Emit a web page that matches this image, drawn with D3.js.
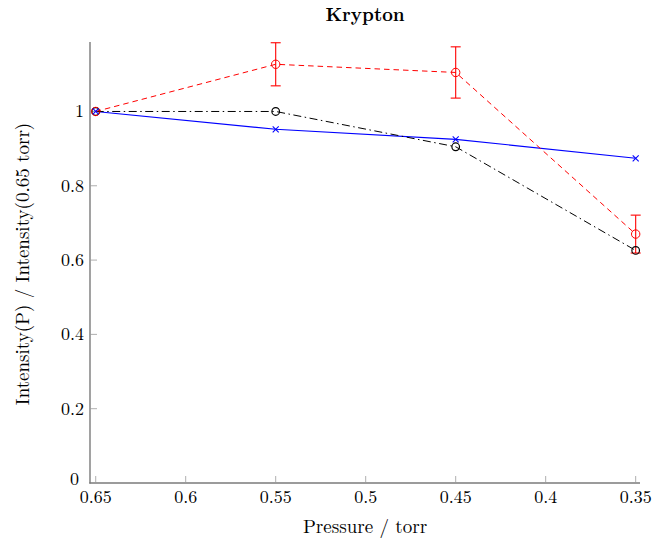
<!DOCTYPE html>
<html><head><meta charset="utf-8">
<script src="https://cdn.jsdelivr.net/npm/d3@7"></script>
<style>
body{margin:0;background:#fff;}
svg text{font-family:"Latin Modern Roman","CMU Serif","Liberation Serif","DejaVu Serif",serif;fill:#000;}
</style></head>
<body><svg id="c" width="653" height="543"></svg>
<script>
const pressures = [0.65, 0.55, 0.45, 0.35];
const redValues = [1.0, 1.127, 1.105, 0.670];
const redErrors = [0, 0.058, 0.069, 0.051];
const blackValues = [1.0, 1.0, 0.905, 0.626];
const blueValues = [1.0, 0.952, 0.925, 0.874];
const xTicks = [0.65, 0.6, 0.55, 0.5, 0.45, 0.4, 0.35];
const yTicks = [0, 0.2, 0.4, 0.6, 0.8, 1];
const titleText = "Krypton";
const xLabel = "Pressure / torr";
const yLabel = "Intensity(P) / Intensity(0.65 torr)";

const svg = d3.select("#c");
const x = d3.scaleLinear().domain([0.65317, 0.3476]).range([90, 640]);
const y = d3.scaleLinear().domain([0, 1.187]).range([483, 42]);

// axes
const axisColor = "#7a7a7a";
svg.append("line").attr("x1",90).attr("x2",90).attr("y1",y(1.187)).attr("y2",483.5)
  .attr("stroke",axisColor).attr("stroke-width",1.4);
svg.append("line").attr("x1",89.3).attr("x2",640).attr("y1",483).attr("y2",483)
  .attr("stroke",axisColor).attr("stroke-width",1.4);

const xa = svg.append("g");
xTicks.forEach(t=>{
  xa.append("line").attr("x1",x(t)).attr("x2",x(t)).attr("y1",483).attr("y2",476)
    .attr("stroke","#999").attr("stroke-width",0.8);
  xa.append("text").attr("x",x(t)).attr("y",503).attr("text-anchor","middle")
    .attr("font-size",18).text(String(t));
});
const ya = svg.append("g");
yTicks.forEach(t=>{
  if(t>0) ya.append("line").attr("x1",90).attr("x2",97).attr("y1",y(t)).attr("y2",y(t))
    .attr("stroke","#999").attr("stroke-width",0.8);
  ya.append("text").attr("x",t===0?79:84).attr("y",y(t)+(t===0?2:6)).attr("text-anchor","end")
    .attr("font-size",18).text(String(t));
});

// title & labels
svg.append("text").attr("x",365).attr("y",21).attr("text-anchor","middle")
  .attr("font-size",18.5).attr("font-weight","bold").text(titleText);
svg.append("text").attr("x",365).attr("y",533).attr("text-anchor","middle")
  .attr("font-size",19).text(xLabel);
svg.append("text").attr("transform","translate(29,264) rotate(-90)").attr("text-anchor","middle")
  .attr("font-size",19).text(yLabel);

const line = vals => d3.line().x((d,i)=>x(pressures[i])).y(d=>y(d))(vals);

// blue solid
svg.append("path").attr("d",line(blueValues)).attr("fill","none").attr("stroke","#0000ff").attr("stroke-width",1.1);
// black dash-dot
svg.append("path").attr("d",line(blackValues)).attr("fill","none").attr("stroke","#000")
  .attr("stroke-width",1).attr("stroke-dasharray","8,3.5,1.5,3.5");
// red dashed
svg.append("path").attr("d",line(redValues)).attr("fill","none").attr("stroke","#ff0000")
  .attr("stroke-width",1).attr("stroke-dasharray","5.5,4");

// red error bars
pressures.forEach((p,i)=>{
  const e = redErrors[i];
  if(e<=0) return;
  const g = svg.append("g").attr("stroke","#ff0000").attr("stroke-width",1.1);
  g.append("line").attr("x1",x(p)).attr("x2",x(p)).attr("y1",y(redValues[i]+e)).attr("y2",y(redValues[i]-e));
  [redValues[i]+e, redValues[i]-e].forEach(v=>{
    g.append("line").attr("x1",x(p)-5).attr("x2",x(p)+5).attr("y1",y(v)).attr("y2",y(v));
  });
});

// markers
pressures.forEach((p,i)=>{
  svg.append("circle").attr("cx",x(p)).attr("cy",y(blackValues[i])).attr("r",3.8)
    .attr("fill","none").attr("stroke","#000").attr("stroke-width",1.2);
});
pressures.forEach((p,i)=>{
  svg.append("circle").attr("cx",x(p)).attr("cy",y(redValues[i])).attr("r",4.2)
    .attr("fill","none").attr("stroke","#ff0000").attr("stroke-width",1);
});
pressures.forEach((p,i)=>{
  const cx=x(p), cy=y(blueValues[i]), s=3;
  const g=svg.append("g").attr("stroke","#0000ff").attr("stroke-width",1.1);
  g.append("line").attr("x1",cx-s).attr("x2",cx+s).attr("y1",cy-s).attr("y2",cy+s);
  g.append("line").attr("x1",cx-s).attr("x2",cx+s).attr("y1",cy+s).attr("y2",cy-s);
});
</script></body></html>
